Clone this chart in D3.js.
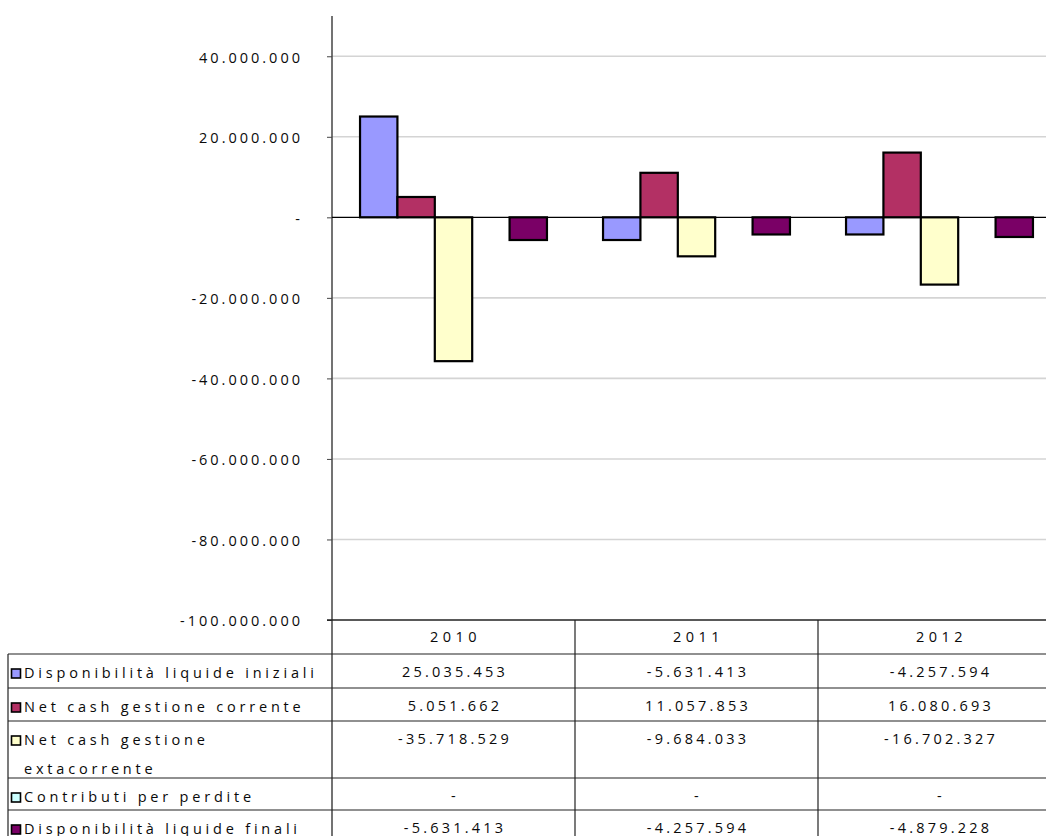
<!DOCTYPE html>
<html>
<head>
<meta charset="utf-8">
<script src="https://cdn.jsdelivr.net/npm/d3@7"></script>
<style>
  html, body { margin: 0; padding: 0; background: #fff; }
  svg { display: block; }
  text { font-family: "Open Sans", "DejaVu Sans", sans-serif; fill: #0a0a0a; }
</style>
</head>
<body>
<svg id="chart" width="1046" height="836"></svg>
<script>
// Years (categories) and the five cash-flow series, in euro
const years = ["2010", "2011", "2012"];
const seriesNames = [
  "Disponibilità liquide iniziali",
  "Net cash gestione corrente",
  "Net cash gestione extacorrente",
  "Contributi per perdite",
  "Disponibilità liquide finali"
];
const dispIniziali     = [25035453, -5631413, -4257594];
const netCorrente      = [5051662, 11057853, 16080693];
const netExtracorrente = [-35718529, -9684033, -16702327];
const contributi       = [0, 0, 0];
const dispFinali       = [-5631413, -4257594, -4879228];
const yTicks = [40000000, 20000000, 0, -20000000, -40000000, -60000000, -80000000, -100000000];
const yDomain = [-100000000, 50000000];

const seriesValues = [dispIniziali, netCorrente, netExtracorrente, contributi, dispFinali];
const seriesColors = ["#9999FF", "#B33064", "#FFFFCC", "#CCFFFF", "#7A0066"];

// Italian number format: dots as thousands separators, "-" for zero
const it = d3.formatLocale({ decimal: ",", thousands: ".", grouping: [3], currency: ["€", ""], minus: "-" });
const fmtNum = it.format(",.0f");
const fmt = v => v === 0 ? "-" : fmtNum(v);

const svg = d3.select("#chart");

// Plot area
const plotLeft = 332, plotTop = 16, plotBottom = 620;
const bandW = 243;
const plotRight = plotLeft + bandW * years.length;

const x0 = d3.scaleBand().domain(years).range([plotLeft, plotRight]).paddingInner(0).paddingOuter(0);
const barW = x0.bandwidth() / 6.5; // gap width 150%
const x1 = d3.scaleBand().domain(d3.range(seriesNames.length))
  .range([barW * 0.75, x0.bandwidth() - barW * 0.75]).padding(0);
const y = d3.scaleLinear().domain(yDomain).range([plotBottom, plotTop]);

// Gridlines
svg.append("g").selectAll("line").data(yTicks.filter(t => t !== 0 && t !== yDomain[0]))
  .join("line")
  .attr("x1", plotLeft).attr("x2", plotRight)
  .attr("y1", d => y(d)).attr("y2", d => y(d))
  .attr("stroke", "#d4d4d4").attr("stroke-width", 1.6);

// Y axis
const yAxis = d3.axisLeft(y).tickValues(yTicks).tickSize(5).tickPadding(24).tickFormat(fmt);
const gy = svg.append("g").attr("transform", `translate(${plotLeft},0)`).call(yAxis);
gy.select(".domain").remove();
gy.selectAll(".tick line").attr("stroke", "#444");
gy.selectAll(".tick text")
  .style("font-family", "'Open Sans', 'DejaVu Sans', sans-serif")
  .style("font-size", "14.5px")
  .style("letter-spacing", "3px")
  .attr("dy", "0.4em")
  .attr("fill", "#0a0a0a");
svg.append("line")
  .attr("x1", plotLeft).attr("x2", plotLeft)
  .attr("y1", plotTop).attr("y2", 836)
  .attr("stroke", "#444").attr("stroke-width", 1.5);

// Bars
const groups = svg.append("g").selectAll("g").data(years).join("g")
  .attr("transform", d => `translate(${x0(d)},0)`);
groups.selectAll("rect")
  .data((yr, i) => seriesValues.map((vals, s) => ({ s, v: vals[i] })))
  .join("rect")
  .attr("x", d => x1(d.s))
  .attr("width", x1.bandwidth())
  .attr("y", d => y(Math.max(0, d.v)))
  .attr("height", d => Math.abs(y(d.v) - y(0)))
  .attr("fill", d => seriesColors[d.s])
  .attr("stroke", "#000")
  .attr("stroke-width", 2.2);

// Zero line
svg.append("line")
  .attr("x1", plotLeft).attr("x2", plotRight)
  .attr("y1", y(0)).attr("y2", y(0))
  .attr("stroke", "#000").attr("stroke-width", 1.2);

// Data table
const tableLeft = 8;
const headerTop = plotBottom, headerBottom = 654;
const rowHeights = [34, 33, 57, 32, 32];
const rowTops = [];
rowHeights.reduce((acc, h) => { rowTops.push(acc); return acc + h; }, headerBottom);
const lineColor = "#222";
const tbl = svg.append("g");

// header top edge (axis bottom)
tbl.append("line").attr("x1", plotLeft - 5).attr("x2", plotRight)
  .attr("y1", headerTop).attr("y2", headerTop).attr("stroke", lineColor).attr("stroke-width", 1.3);
// row separators
tbl.selectAll("line.row").data(rowTops).join("line").attr("class", "row")
  .attr("x1", tableLeft).attr("x2", plotRight)
  .attr("y1", d => d).attr("y2", d => d)
  .attr("stroke", lineColor).attr("stroke-width", 1.2);
// left border
tbl.append("line").attr("x1", tableLeft).attr("x2", tableLeft)
  .attr("y1", headerBottom).attr("y2", 836).attr("stroke", lineColor).attr("stroke-width", 1.2);
// column separators
tbl.selectAll("line.col").data(years.slice(1).concat(["end"])).join("line").attr("class", "col")
  .attr("x1", d => d === "end" ? plotRight : x0(d)).attr("x2", d => d === "end" ? plotRight : x0(d))
  .attr("y1", headerTop).attr("y2", 836)
  .attr("stroke", lineColor).attr("stroke-width", 1.2);

const valueStyle = sel => sel
  .style("font-size", "14.5px")
  .style("letter-spacing", "3.2px");
const labelStyle = sel => sel
  .style("font-size", "14.5px")
  .style("letter-spacing", "3.8px");

// header years
tbl.selectAll("text.year").data(years).join("text").attr("class", "year")
  .attr("x", d => x0(d) + x0.bandwidth() / 2 + 2)
  .attr("y", (headerTop + headerBottom) / 2 + 5)
  .attr("text-anchor", "middle")
  .style("font-size", "14.5px")
  .style("letter-spacing", "4.5px")
  .text(d => d);

// legend keys + series names
const rows = tbl.selectAll("g.trow").data(seriesNames).join("g").attr("class", "trow")
  .attr("transform", (d, i) => `translate(0,${rowTops[i]})`);
rows.append("rect")
  .attr("x", 11.5).attr("y", 15).attr("width", 9).attr("height", 9)
  .attr("fill", (d, i) => seriesColors[i])
  .attr("stroke", "#000").attr("stroke-width", 1.6);

const labelMaxW = plotLeft - 24 - 6;
rows.each(function (name) {
  const g = d3.select(this);
  const words = name.split(" ");
  let lines = [], cur = [];
  const probe = g.append("text").call(labelStyle);
  words.forEach(w => {
    const trial = cur.concat([w]).join(" ");
    probe.text(trial);
    if (cur.length && probe.node().getComputedTextLength() > labelMaxW) {
      lines.push(cur.join(" "));
      cur = [w];
    } else {
      cur.push(w);
    }
  });
  lines.push(cur.join(" "));
  probe.remove();
  lines.forEach((ln, k) => {
    g.append("text")
      .attr("x", 24)
      .attr("y", 23.5 + k * 29)
      .call(labelStyle)
      .text(ln);
  });
});

// values
rows.each(function (name, s) {
  d3.select(this).selectAll("text.val").data(years).join("text").attr("class", "val")
    .attr("x", d => x0(d) + x0.bandwidth() / 2 + 1.5)
    .attr("y", 22.5)
    .attr("text-anchor", "middle")
    .call(valueStyle)
    .text((d, i) => fmt(seriesValues[s][i]));
});
</script>
</body>
</html>
